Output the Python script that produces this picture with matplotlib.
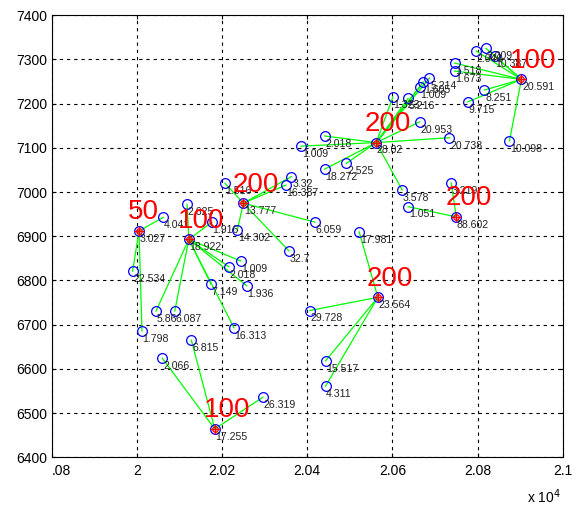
import matplotlib
matplotlib.use("Agg")
import matplotlib.pyplot as plt

plt.rcParams['font.family'] = ['Liberation Sans', 'DejaVu Sans']

# Facility (center) data
center_x = [20005, 20122, 20250, 20562, 20750, 20903, 20566, 20183]
center_y = [6912, 6893, 6975, 7112, 6944, 7255, 6762, 6464]
center_cap = ['50', '100', '200', '200', '200', '100', '200', '100']
center_demand = ['3.027', '18.922', '13.777', '28.02', '88.602', '20.591', '23.564', '17.255']

# Customer data
cust_x = [20062, 19990, 20012,
          20118, 20176, 20244, 20216, 20258, 20174, 20045, 20089, 20228,
          20207, 20363, 20350, 20236, 20357, 20418,
          20386, 20441, 20441, 20492, 20601, 20637, 20664, 20673, 20687, 20664, 20734, 20623,
          20637, 20738,
          20797, 20820, 20840, 20746, 20746, 20816, 20777, 20875,
          20406, 20443, 20443, 20522,
          20128, 20060, 20296]
cust_y = [6943, 6821, 6686,
          6972, 6932, 6844, 6831, 6788, 6792, 6731, 6731, 6693,
          7020, 7035, 7016, 6914, 6867, 6932,
          7104, 7127, 7052, 7065, 7215, 7212, 7238, 7249, 7258, 7159, 7123, 7005,
          6967, 7021,
          7319, 7325, 7308, 7292, 7274, 7231, 7204, 7116,
          6732, 6618, 6561, 6910,
          6665, 6624, 6536]
cust_demand = ['4.041', '22.534', '1.798',
               '2.625', '1.916', '1.009', '2.018', '1.936', '7.149', '5.86', '6.087', '16.313',
               '1.516', '3.32', '16.387', '14.302', '32.7', '6.059',
               '1.009', '2.018', '18.272', '2.525', '1.323', '5.216', '1.009', '1.605', '5.214',
               '20.953', '20.738', '3.578',
               '1.051', '3.219',
               '2.046', '3.009', '10.387', '1.518', '1.673', '8.251', '9.715', '10.098',
               '29.728', '15.517', '4.311', '17.981',
               '6.815', '2.066', '26.319']
cust_center = [0, 0, 0,
               1, 1, 1, 1, 1, 1, 1, 1, 1,
               2, 2, 2, 2, 2, 2,
               3, 3, 3, 3, 3, 3, 3, 3, 3, 3, 3, 3,
               4, 4,
               5, 5, 5, 5, 5, 5, 5, 5,
               6, 6, 6, 6,
               7, 7, 7]

x_ticks = [19800, 20000, 20200, 20400, 20600, 20800, 21000]
x_ticklabels = ['.08', '2', '2.02', '2.04', '2.06', '2.08', '2.1']
y_ticks = [6400, 6500, 6600, 6700, 6800, 6900, 7000, 7100, 7200, 7300, 7400]

fig = plt.figure(figsize=(5.8, 5.08), dpi=100)
ax = fig.add_axes([0.0891, 0.0998, 0.8811, 0.8701])

# connection lines
for cx, cy, ci in zip(cust_x, cust_y, cust_center):
    ax.plot([center_x[ci], cx], [center_y[ci], cy], color=(0, 1, 0), lw=0.9, zorder=2)

# customer circles
ax.plot(cust_x, cust_y, 'o', mfc='none', mec='blue', ms=7, mew=0.9, ls='none', zorder=3)
ax.plot(center_x, center_y, 'o', mfc='none', mec='blue', ms=7, mew=0.9, ls='none', zorder=3)
ax.plot(center_x, center_y, 'o', mfc='none', mec='red', ms=4, mew=0.9, ls='none', zorder=4)
ax.plot(center_x, center_y, '+', color='red', ms=7, mew=1.0, ls='none', zorder=4)

# demand labels
for x, y, t in zip(cust_x + center_x, cust_y + center_y, cust_demand + center_demand):
    ax.annotate(t, (x, y), xytext=(0.5, -2.0), textcoords='offset points',
                ha='left', va='top', fontsize=7.6, color='#222222', zorder=5)

# capacity labels
for x, y, t in zip(center_x, center_y, center_cap):
    ax.annotate(t, (x, y), xytext=(-8, 4), textcoords='offset points',
                ha='left', va='bottom', fontsize=20, color='red', zorder=6)

ax.set_xlim(19800, 21000)
ax.set_ylim(6400, 7400)
ax.set_xticks(x_ticks)
ax.set_xticklabels(x_ticklabels)
ax.get_xticklabels()[0].set_ha('left')
ax.set_yticks(y_ticks)
ax.tick_params(direction='in', length=3, labelsize=10, top=True, right=True, pad=5)
ax.tick_params(axis='y', pad=3)
ax.grid(True, color='black', linestyle=(0, (3, 3.5)), lw=0.8)
ax.set_axisbelow(True)
for s in ax.spines.values():
    s.set_linewidth(0.8)

fig.text(0.908, 0.004, r'x 10$^{4}$', fontsize=10, ha='left', va='bottom')

fig.savefig('out.png', dpi=100)
